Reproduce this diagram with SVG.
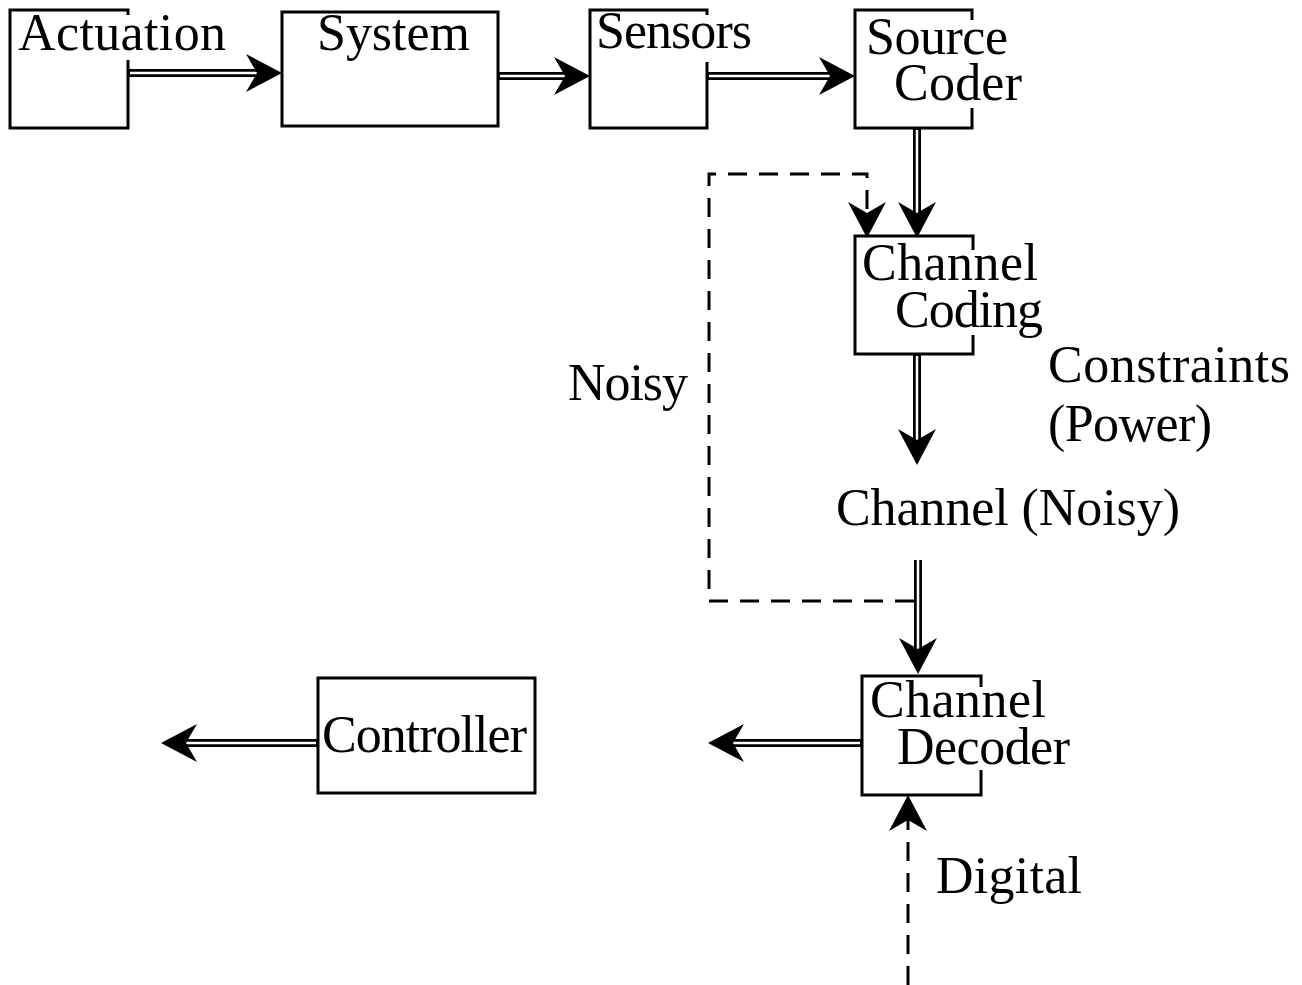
<svg xmlns="http://www.w3.org/2000/svg" width="1302" height="985" viewBox="0 0 1302 985">
<style>
.box{fill:none;stroke:#000;stroke-width:3}
.bg{fill:#fff}
.t{font-family:"Liberation Serif","DejaVu Serif",serif;font-size:52px;fill:#000}
.outer{stroke:#000;stroke-width:8;fill:none}
.inner{stroke:#fff;stroke-width:2.5;fill:none}
.dash{stroke:#000;stroke-width:3;fill:none;stroke-dasharray:19 12}
</style>
<defs>
<path id="ah" d="M0,0 L-36,-19 L-25,0 L-36,19 Z" fill="#000"/>
</defs>
<rect width="1302" height="985" fill="#fff"/>

<g id="connectors">
  <path class="outer" d="M128,73 H260"/><path class="inner" d="M130,73 H260"/>
  <use href="#ah" transform="translate(282,73)"/>
  <path class="outer" d="M498,76 H568"/><path class="inner" d="M500,76 H568"/>
  <use href="#ah" transform="translate(590,76)"/>
  <path class="outer" d="M707,76 H833"/><path class="inner" d="M709,76 H833"/>
  <use href="#ah" transform="translate(855,76)"/>
  <path class="outer" d="M917,128 V216"/><path class="inner" d="M917,130 V216"/>
  <use href="#ah" transform="translate(917,238) rotate(90)"/>
  <path class="outer" d="M917,354 V443"/><path class="inner" d="M917,356 V443"/>
  <use href="#ah" transform="translate(917,465) rotate(90)"/>
  <path class="outer" d="M918,560 V652"/><path class="inner" d="M918,560 V652"/>
  <use href="#ah" transform="translate(918,674) rotate(90)"/>
  <path class="outer" d="M862,743 H730"/><path class="inner" d="M860,743 H730"/>
  <use href="#ah" transform="translate(708,743) rotate(180)"/>
  <path class="outer" d="M318,743 H183"/><path class="inner" d="M316,743 H183"/>
  <use href="#ah" transform="translate(161,743) rotate(180)"/>
  <path class="dash" d="M914,601 H709 V174 H867 V218"/>
  <use href="#ah" transform="translate(867,238) rotate(90)"/>
  <path class="dash" d="M908,985 V817"/>
  <use href="#ah" transform="translate(908,795) rotate(-90)"/>
</g>

<g id="actuation">
  <rect class="box" x="10" y="10" width="118" height="118"/>
  <rect class="bg" x="12" y="15" width="218" height="45"/>
  <text class="t" x="18" y="50" textLength="208">Actuation</text>
</g>
<g id="system">
  <rect class="box" x="282" y="12" width="216" height="114"/>
  <text class="t" x="317" y="50" textLength="153">System</text>
</g>
<g id="sensors">
  <rect class="box" x="590" y="10" width="117" height="118"/>
  <rect class="bg" x="592" y="15" width="164" height="47"/>
  <text class="t" x="596" y="48" textLength="156">Sensors</text>
</g>
<g id="source-coder">
  <rect class="box" x="855" y="10" width="117" height="118"/>
  <rect class="bg" x="857" y="20" width="170" height="88"/>
  <text class="t" x="866" y="54" textLength="142">Source</text>
  <text class="t" x="894" y="100" textLength="128">Coder</text>
</g>
<g id="channel-coding">
  <rect class="box" x="855" y="236" width="118" height="118"/>
  <rect class="bg" x="857" y="250" width="190" height="85"/>
  <text class="t" x="862" y="280" textLength="176">Channel</text>
  <text class="t" x="895" y="327" textLength="148">Coding</text>
</g>
<g id="channel-noisy">
  <text class="t" x="836" y="525" textLength="344">Channel (Noisy)</text>
</g>
<g id="constraints">
  <text class="t" x="1048" y="382" textLength="242">Constraints</text>
  <text class="t" x="1048" y="441" textLength="164">(Power)</text>
</g>
<g id="noisy">
  <text class="t" x="568" y="400" textLength="120">Noisy</text>
</g>
<g id="channel-decoder">
  <rect class="box" x="862" y="676" width="119" height="119"/>
  <rect class="bg" x="864" y="687" width="210" height="83"/>
  <text class="t" x="870" y="717" textLength="176">Channel</text>
  <text class="t" x="897" y="764" textLength="173">Decoder</text>
</g>
<g id="controller">
  <rect class="box" x="318" y="678" width="217" height="115"/>
  <text class="t" x="322" y="752" textLength="205">Controller</text>
</g>
<g id="digital">
  <text class="t" x="936" y="893" textLength="146">Digital</text>
</g>
</svg>
